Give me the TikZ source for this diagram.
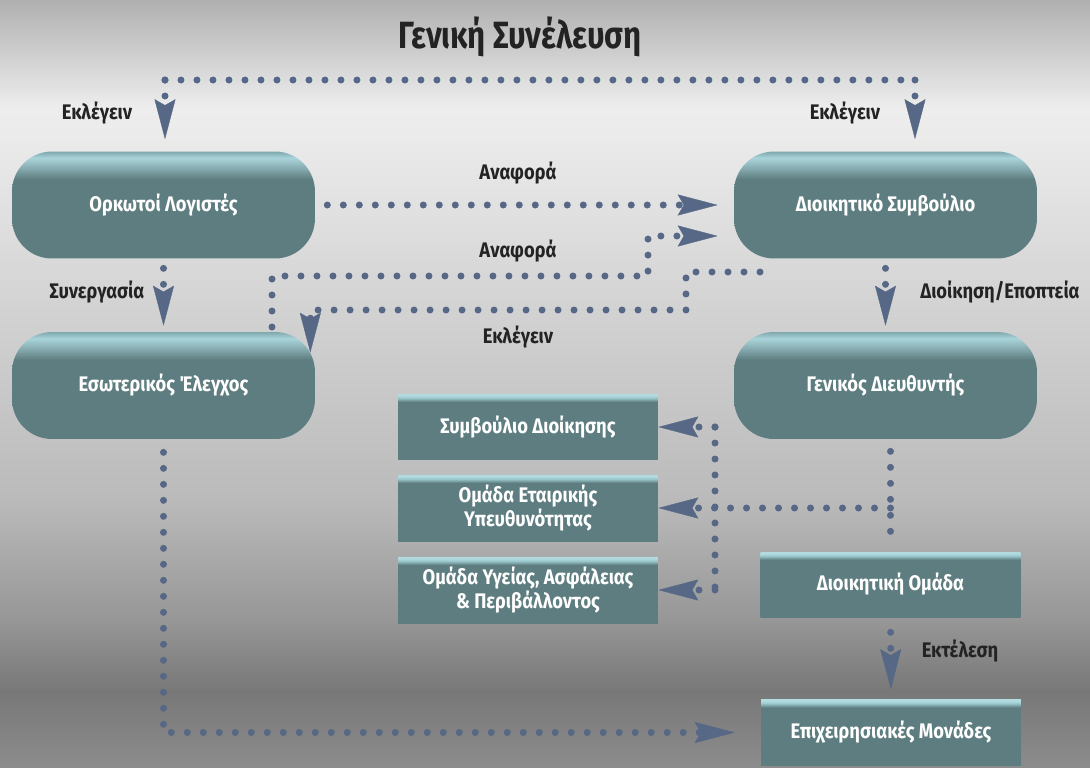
\documentclass[tikz,border=0pt]{standalone}
\usepackage{fontspec}
\setmainfont{Fira Sans}[FakeStretch=0.87]
\newfontfamily\titlefamily{Fira Sans}[FakeStretch=0.82]
\usetikzlibrary{arrows.meta,calc}

\definecolor{dotblue}{RGB}{86,104,133}
\definecolor{labelgray}{RGB}{35,35,35}
\newcommand\boxfont{\bfseries\fontsize{12}{14.2}\selectfont}
\newcommand\titlefont{\titlefamily\bfseries\fontsize{21.6}{26}\selectfont}

\pgfdeclareverticalshading{backdrop}{100bp}{rgb(0bp)=(0.55,0.55,0.55); rgb(25bp)=(0.55,0.55,0.55);
  rgb(30bp)=(0.47,0.47,0.47); rgb(34.6bp)=(0.59,0.59,0.59); rgb(42.4bp)=(0.73,0.73,0.73);
  rgb(55.5bp)=(0.83,0.83,0.83); rgb(66bp)=(0.92,0.92,0.92); rgb(68bp)=(0.93,0.93,0.93);
  rgb(75bp)=(0.69,0.69,0.69); rgb(100bp)=(0.69,0.69,0.69)}
\pgfdeclareverticalshading{capsule}{100bp}{rgb(0bp)=(0.37,0.49,0.5); rgb(62bp)=(0.37,0.49,0.5);
  rgb(68bp)=(0.55,0.7,0.72); rgb(72bp)=(0.66,0.83,0.85); rgb(75bp)=(0.5,0.66,0.68); rgb(100bp)=(0.5,0.66,0.68)}
\pgfdeclareverticalshading{plate}{100bp}{rgb(0bp)=(0.37,0.49,0.5); rgb(69bp)=(0.37,0.49,0.5);
  rgb(72bp)=(0.6,0.78,0.8); rgb(74bp)=(0.7,0.86,0.88); rgb(100bp)=(0.7,0.86,0.88)}

\begin{document}
\begin{tikzpicture}[x=0.02cm, y=-0.02cm,
    dots/.style={dotblue, line width=0.14cm, line cap=round, dash pattern=on 0pt off 0.32cm},
    tip/.style={-{Stealth[length=0.8cm, width=0.42cm, inset=0.12cm, line width=0.2pt]}},
    capsule/.style={shade, shading=capsule, rounded corners=0.8cm, minimum width=6.06cm,
      minimum height=2.14cm, text=white, font=\boxfont},
    plate/.style={shade, shading=plate, minimum width=5.2cm, minimum height=1.32cm,
      align=center, text=white, font=\boxfont},
    lbl/.style={text=labelgray, font=\boxfont, anchor=base}]
  \useasboundingbox (0,0) rectangle (1090,768);
  \shade[shading=backdrop] (0,0) rectangle (1090,768);

  \node[lbl, font=\titlefont] (title) at (520,48) {Γενική Συνέλευση};

  \node[capsule] (orkotoi) at (163.5,205) {Ορκωτοί Λογιστές};
  \node[capsule] (dsymv) at (885.5,205) {Διοικητικό Συμβούλιο};
  \node[capsule] (eswt) at (163.5,385.5) {Εσωτερικός Έλεγχος};
  \node[capsule] (gendir) at (885.5,385.5) {Γενικός Διευθυντής};

  \node[plate] (sd) at (528,427) {Συμβούλιο Διοίκησης};
  \node[plate] (csr) at (528,508) {Ομάδα Εταιρικής\\Υπευθυνότητας};
  \node[plate] (hse) at (528,590) {Ομάδα Υγείας, Ασφάλειας\\\& Περιβάλλοντος};
  \node[plate, minimum height=1.3cm] (diom) at (890.5,584.5) {Διοικητική Ομάδα};
  \node[plate] (units) at (891,732.5) {Επιχειρησιακές Μονάδες};

  % general assembly elects
  \coordinate (gl) at (165,80);
  \coordinate (gr) at (915,80);
  \draw[dots] (gl) -- (gr);
  \draw[dots, tip, shorten >=0.24cm] (gl) -- (gl |- orkotoi.north);
  \draw[dots, tip, shorten >=0.24cm] (gr) -- (gr |- dsymv.north);

  % reports
  \draw[dots, tip, shorten <=0.24cm, shorten >=0.32cm] (orkotoi.east) -- (dsymv.west);
  \coordinate (r2) at (272,327);
  \draw[dots, tip, shorten >=0.32cm] (r2) |- (648,276) |- ($(dsymv.west)+(0,31)$);
  \coordinate (e2) at (760,272);
  \draw[dots, tip] (e2) -| (686,310) -| ($(eswt.north east)+(-5,21)$);

  \draw[dots, tip, shorten <=0.19cm, shorten >=0.12cm] (orkotoi.south) -- (eswt.north);
  \draw[dots, tip, shorten <=0.19cm, shorten >=0.12cm] (dsymv.south) -- (gendir.north);

  \draw[dots, shorten <=0.24cm, shorten >=0.2cm] (gendir.south -| diom.north) -- (diom.north);
  \coordinate (vx) at (715,0);
  \draw[dots, tip] (diom.north |- csr.east) -- (csr.east);
  \draw[dots] (sd.east -| vx) -- (hse.east -| vx);
  \foreach \b in {sd,hse}
    \draw[dots, tip] (\b.east -| vx) -- (\b.east);

  \draw[dots, tip, shorten <=0.3cm, shorten >=0.2cm] (diom.south) -- (units.north);
  \draw[dots, tip, shorten <=0.26cm, shorten >=0.52cm] (eswt.south) |- (units.west);

  \node[lbl] (el1) at (97,119) {Εκλέγειν};
  \node[lbl] (el2) at (845,119) {Εκλέγειν};
  \node[lbl] (rep1) at (518,179) {Αναφορά};
  \node[lbl] (rep2) at (518,257) {Αναφορά};
  \node[lbl] (el3) at (518,343) {Εκλέγειν};
  \node[lbl] (coop) at (97,298) {Συνεργασία};
  \node[lbl] (sup) at (1000,298) {Διοίκηση/Εποπτεία};
  \node[lbl] (exec) at (960,657) {Εκτέλεση};
\end{tikzpicture}
\end{document}
